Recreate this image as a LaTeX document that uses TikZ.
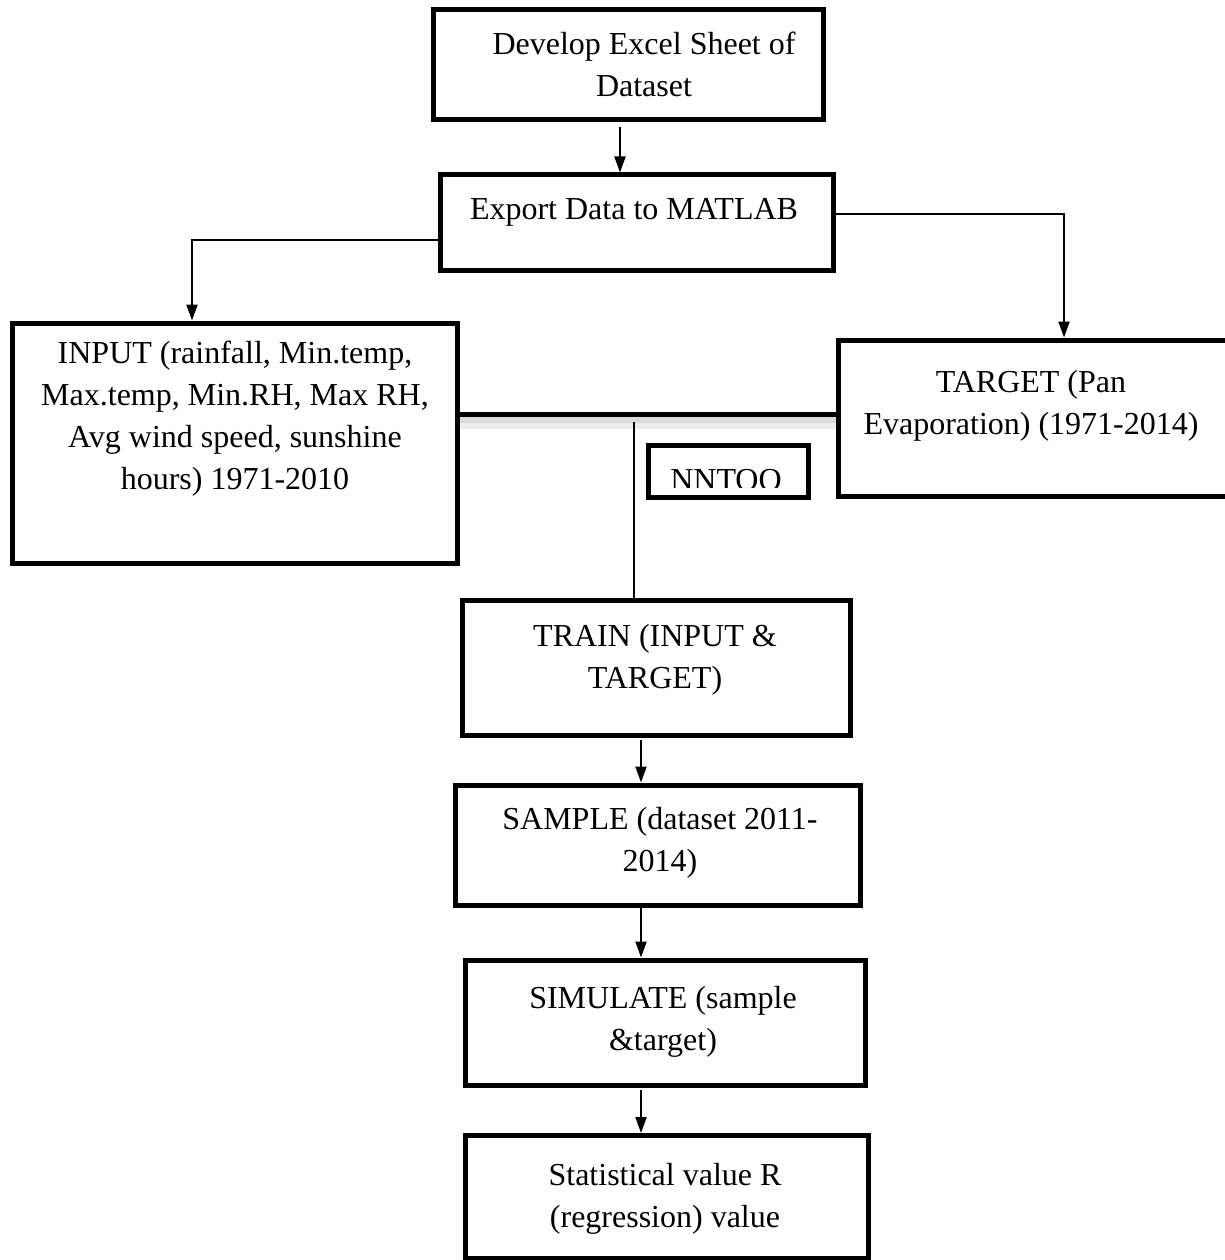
\documentclass[tikz,border=0pt]{standalone}
\usepackage{fontspec}
\setmainfont{Liberation Serif}
\usetikzlibrary{arrows.meta}
\tikzset{
  boxnode/.style={draw=black, line width=5pt, minimum width=#1, inner sep=0pt},
  txt/.style={align=center, inner sep=0pt, font=\fontsize{32}{42}\selectfont},
  arr/.style={line width=2pt, -{Triangle[length=16pt,width=11pt]}},
  thinln/.style={line width=1.6pt}
}
\begin{document}
\begin{tikzpicture}[x=1pt,y=-1pt]
\useasboundingbox[fill=white] (0,0) rectangle (1224,1260);
% boxes
\node[boxnode=390pt, minimum height=110pt] (b1) at (628,65) {};
\node[txt] (t1) at (644,64) {Develop Excel Sheet of\\Dataset};
\node[boxnode=393pt, minimum height=95pt] (b2) at (636.5,222.5) {};
\node[txt] (t2) at (634,212) {Export Data to MATLAB};
\node[boxnode=445pt, minimum height=240pt] (inp) at (234.5,443) {};
\node[txt] (t3) at (235,419) {INPUT (rainfall, Min.temp,\\Max.temp, Min.RH, Max RH,\\Avg wind speed, sunshine\\hours) 1971-2010};
\node[boxnode=400pt, minimum height=156pt] (tgt) at (1038,418) {};
\node[txt] (t4) at (1031,406) {TARGET (Pan\\Evaporation) (1971-2014)};
\node[boxnode=160pt, minimum height=52pt] (nn) at (728,471) {};
\begin{scope}
  \clip (650,447) rectangle (806,487);
  \node[txt, anchor=base] (t5) at (726,490) {NNTOO};
\end{scope}
\node[boxnode=388pt, minimum height=135pt] (tr) at (656,667.5) {};
\node[txt] (t6) at (655,660) {TRAIN (INPUT \&\\TARGET)};
\node[boxnode=405pt, minimum height=120pt] (sa) at (657.5,845) {};
\node[txt] (t7) at (660,843) {SAMPLE (dataset 2011-\\2014)};
\node[boxnode=400pt, minimum height=125pt] (si) at (665,1022.5) {};
\node[txt] (t8) at (663,1022) {SIMULATE (sample\\\&target)};
\node[boxnode=403pt, minimum height=123pt] (st) at (666.5,1197) {};
\node[txt] (t9) at (665,1199) {Statistical value R\\(regression) value};
% connectors
\draw[arr] (620,127) coordinate (a1s) -- (620,0 |- b2.north);
\draw[arr] (b2.west |- 0,240) -| (192,0 |- inp.north);
\draw[arr] (b2.east |- 0,214) -| (1064,0 |- tgt.north);
% shadow under link line
\fill[black!14] (inp.east |- 0,416) rectangle (tgt.west |- 0,423);
\fill[black!7] (inp.east |- 0,423) rectangle (tgt.west |- 0,429);
\draw[line width=5pt] (inp.east |- 0,414) -- (tgt.west |- 0,414);
\draw[thinln] (634,422) -- (634,0 |- tr.north);
\draw[arr] (641,740) -- (641,0 |- sa.north);
\draw[arr] (641,908) -- (641,0 |- si.north);
\draw[arr] (641,1090) -- (641,0 |- st.north);
\end{tikzpicture}
\end{document}
